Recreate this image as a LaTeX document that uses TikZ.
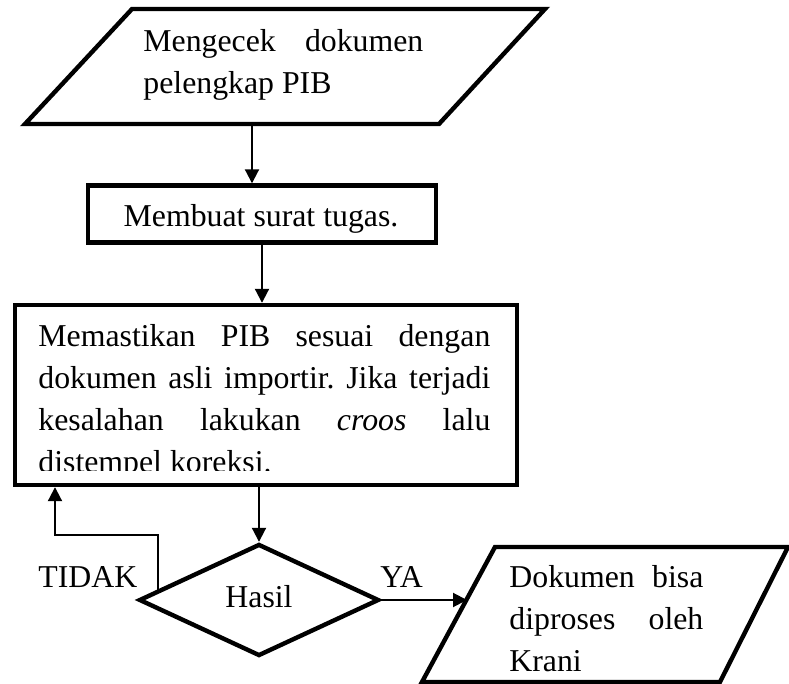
\documentclass[tikz,border=0pt]{standalone}
\usepackage{fontspec}
\setmainfont{Liberation Serif}
\usetikzlibrary{shapes.geometric,arrows.meta,calc}

\tikzset{
  tebal/.style={line width=2.2pt},
  panah/.style={line width=1pt,-{Triangle[length=7pt,width=7pt]}},
  teks/.style={inner sep=0pt,align=justify,font=\fontsize{15.9}{21}\selectfont\frenchspacing},
}

\begin{document}
\begin{tikzpicture}[x=0.5pt,y=-0.5pt]
\useasboundingbox (0,0) rectangle (789,684);

% Input: cek dokumen
\draw[tebal] (132,9) -- (545,9) -- (439,124) -- (25,124) -- cycle;
\node[teks,text width=140pt,anchor=base west] (cek) at (143,52) {Mengecek dokumen\linebreak pelengkap PIB};
\coordinate (cekbawah) at (252,124);

% Proses: surat tugas
\node[tebal,draw,minimum width=174pt,minimum height=28.5pt,inner sep=0pt] (surat) at (262,214) {};
\node[teks,anchor=base] (teks-surat) at (261,227) {Membuat surat tugas.};

% Proses: memastikan PIB (teks terpotong di bawah)
\node[tebal,draw,minimum width=251pt,minimum height=90pt,inner sep=0pt] (pastikan) at (266,395) {};
\begin{scope}
\clip (20,310) rectangle (512,471);
\node[teks,text width=226pt,anchor=base west] (teks-pastikan) at (38,347) {Memastikan PIB sesuai dengan\linebreak dokumen asli importir. Jika terjadi\linebreak kesalahan lakukan \textit{croos} lalu\linebreak distempel koreksi.};
\end{scope}

% Keputusan
\node[tebal,draw,diamond,aspect=2,minimum width=120pt,minimum height=56pt,inner sep=0pt] (hasil) at (259,600) {};
\node[teks,anchor=base] (teks-hasil) at (259,608) {Hasil};
\node[teks,anchor=base west] (tidak) at (38,588) {TIDAK};
\node[teks,anchor=base west] (ya) at (380,588) {YA};

% Output: krani
\draw[tebal] (495,547) -- (788,547) -- (720,682) -- (422,682) -- cycle;
\node[teks,text width=97pt,anchor=base west] (krani) at (509,588) {Dokumen bisa\linebreak diproses oleh\linebreak Krani};
\coordinate (kranikiri) at (467,600);

% Panah
\draw[panah] (cekbawah) -- (cekbawah |- surat.north);
\draw[panah] (surat.south) -- (surat.south |- pastikan.north);
\draw[panah] (hasil.north |- pastikan.south) -- (hasil.north);
\draw[panah] (hasil.east) -- (kranikiri);
% Balik ke atas jika TIDAK
\coordinate (tidakawal) at ($(hasil.west)!0.17!(hasil.north)$);
\coordinate (balik) at (55,535);
\draw[panah] (tidakawal) |- (balik) -- (balik |- pastikan.south);
\end{tikzpicture}
\end{document}
